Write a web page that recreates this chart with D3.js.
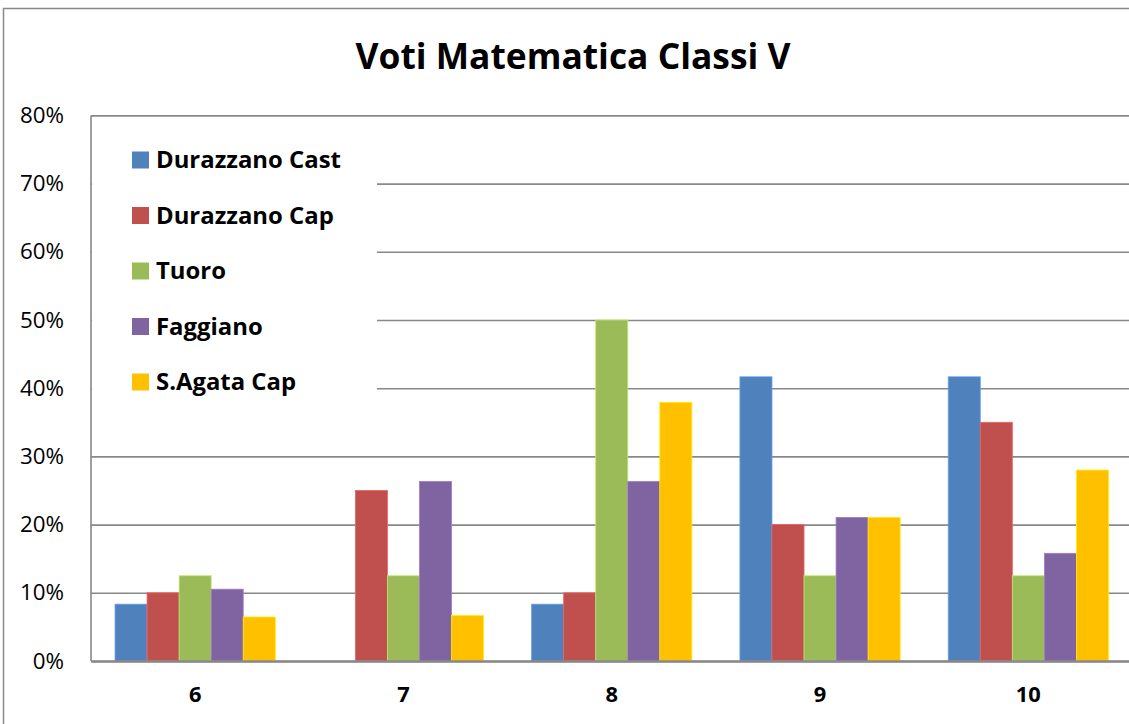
<!DOCTYPE html>
<html><head><meta charset="utf-8">
<script src="https://cdn.jsdelivr.net/npm/d3@7"></script>
<style>body{margin:0;background:#fff}svg{display:block}</style>
</head><body>
<script>
const categories = ["6","7","8","9","10"];
const seriesNames = ["Durazzano Cast","Durazzano Cap","Tuoro","Faggiano","S.Agata Cap"];
const durazzanoCast = [8.33, 0, 8.33, 41.67, 41.67];
const durazzanoCap  = [10, 25, 10, 20, 35];
const tuoro         = [12.5, 12.5, 50, 12.5, 12.5];
const faggiano      = [10.53, 26.32, 26.32, 21.05, 15.79];
const sAgataCap     = [6.45, 6.67, 37.93, 21.05, 28];
const yTicks = [0,10,20,30,40,50,60,70,80];
const colors = ["#4F81BD","#C0504D","#9BBB59","#8064A2","#FFC000"];
const seriesValues = [durazzanoCast, durazzanoCap, tuoro, faggiano, sAgataCap];

(function(){
const W = 1129, H = 724;
const svg = d3.select("body").append("svg").attr("width", W).attr("height", H);
const font = "'Open Sans', 'Liberation Sans', sans-serif";

function fitSize(sel, base, targetW) {
  const w = sel.node().getComputedTextLength();
  return base * targetW / w;
}

// outer chart border
svg.append("rect").attr("x", 3.5).attr("y", 8.5).attr("width", 1140).attr("height", 740)
  .attr("fill", "#fff").attr("stroke", "#898989").attr("stroke-width", 1.5);

const pLeft = 91, pRight = 1132.5, pTop = 115.4, pBottom = 661;
const x0 = d3.scaleBand().domain(categories).range([pLeft, pRight]).paddingInner(0).paddingOuter(0);
const groupW = x0.bandwidth();
const barW = groupW / (seriesNames.length + 1.5);
const x1 = d3.scaleBand().domain(seriesNames)
  .range([(groupW - barW * 5) / 2, (groupW + barW * 5) / 2]).padding(0);
const y = d3.scaleLinear().domain([0, 80]).range([pBottom, pTop]);

// gridlines + y labels
const yAxis = d3.axisLeft(y).tickValues(yTicks).tickFormat(d => d + "%").tickSize(-(pRight - pLeft)).tickPadding(27);
const gy = svg.append("g").attr("transform", `translate(${pLeft},0)`).call(yAxis);
gy.select(".domain").remove();
gy.selectAll(".tick line").attr("stroke", "#888").attr("stroke-width", 1.6);
gy.selectAll(".tick text").attr("font-family", font).attr("font-size", 20).attr("fill", "#000");
const ySize = fitSize(gy.selectAll(".tick text").filter(d => d === 80), 20, 44);
gy.selectAll(".tick text").attr("font-size", ySize);
svg.append("line").attr("x1", pLeft).attr("x2", pLeft).attr("y1", pTop).attr("y2", pBottom)
  .attr("stroke", "#888").attr("stroke-width", 1.6);

// bars
const groups = svg.append("g").selectAll("g").data(categories).join("g")
  .attr("transform", d => `translate(${x0(d)},0)`);
groups.selectAll("rect").data((c, i) => seriesNames.map((s, k) => ({s, k, v: seriesValues[k][i]})))
  .join("rect")
  .attr("x", d => x1(d.s)).attr("width", x1.bandwidth())
  .attr("y", d => y(d.v)).attr("height", d => pBottom - y(d.v))
  .attr("fill", d => colors[d.k])
  .attr("stroke", d => d.v > 0 ? d3.color(colors[d.k]).brighter(0.6) : "none").attr("stroke-width", 0.8);

// bottom axis
const xAxis = d3.axisBottom(x0).tickSize(0).tickPadding(25);
const gx = svg.append("g").attr("transform", `translate(0,${pBottom})`).call(xAxis);
gx.select(".domain").attr("stroke", "#888").attr("stroke-width", 2.4);
gx.selectAll(".tick text").attr("font-family", font).attr("font-size", 20).attr("font-weight", "bold").attr("fill", "#000");
const xSize = fitSize(gx.selectAll(".tick text").filter(d => d === "10"), 20, 25);
gx.selectAll(".tick text").attr("font-size", xSize);

// legend
const lg = svg.append("g");
lg.append("rect").attr("x", pLeft + 1).attr("y", 125).attr("width", 285).attr("height", 285).attr("fill", "#fff");
const rowY = d3.scalePoint().domain(seriesNames).range([160, 382]);
const texts = [];
seriesNames.forEach((s, k) => {
  lg.append("rect").attr("x", 132).attr("y", rowY(s) - 8.5).attr("width", 17).attr("height", 17).attr("fill", colors[k]);
  texts.push(lg.append("text").attr("x", 156).attr("y", rowY(s)).attr("dy", "0.35em")
    .attr("font-family", font).attr("font-size", 22).attr("font-weight", "bold").text(s));
});
const lSize = fitSize(texts[0], 22, 185);
texts.forEach(t => t.attr("font-size", lSize));

// title
const t = svg.append("text").attr("x", 573).attr("y", 57).attr("text-anchor", "middle").attr("dy", "0.35em")
  .attr("font-family", font).attr("font-size", 34).attr("font-weight", "bold").text("Voti Matematica Classi V");
t.attr("font-size", fitSize(t, 34, 435));
})();
</script>
</body></html>
